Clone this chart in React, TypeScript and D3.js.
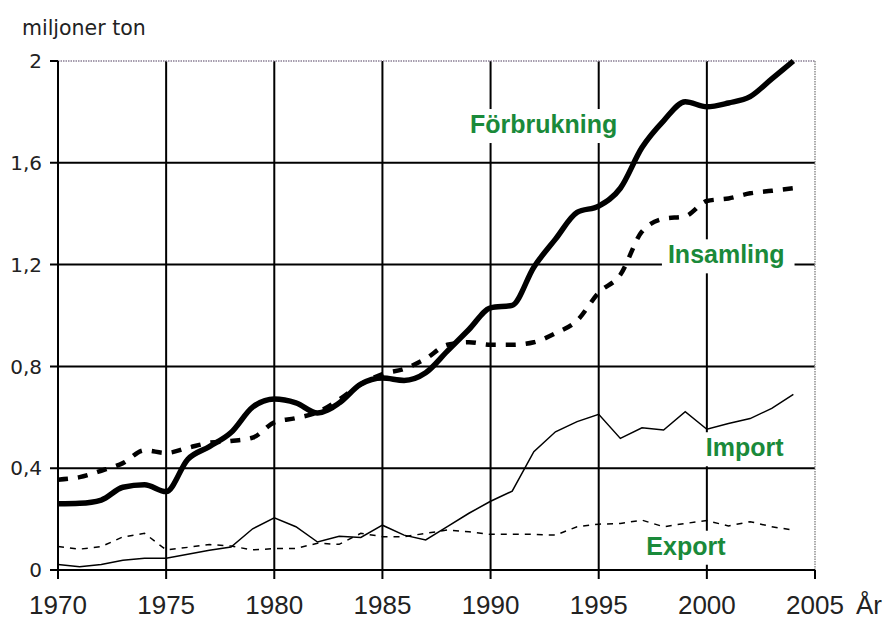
import React from 'react';
import * as d3 from 'd3';

const years = d3.range(1970, 2005);

const forbrukning = [
  0.26, 0.262, 0.275, 0.325, 0.335, 0.308, 0.435, 0.485, 0.54, 0.64,
  0.672, 0.657, 0.617, 0.656, 0.73, 0.754, 0.745, 0.775, 0.86, 0.945,
  1.03, 1.04, 1.19, 1.3, 1.405, 1.43, 1.5, 1.66, 1.765, 1.84,
  1.82, 1.835, 1.86, 1.93, 2.0,
];

const insamling = [
  0.355, 0.365, 0.39, 0.42, 0.47, 0.46, 0.48, 0.5, 0.507, 0.52,
  0.58, 0.597, 0.62, 0.67, 0.73, 0.77, 0.79, 0.83, 0.885, 0.895,
  0.885, 0.885, 0.895, 0.93, 0.98, 1.09, 1.16, 1.33, 1.38, 1.39,
  1.45, 1.46, 1.48, 1.49, 1.5,
];

const importSerie = [
  0.022, 0.013, 0.022, 0.038, 0.046, 0.046, 0.062, 0.078, 0.09, 0.162,
  0.205, 0.17, 0.11, 0.133, 0.128, 0.176, 0.137, 0.118, 0.17, 0.223,
  0.27, 0.31, 0.465, 0.543, 0.583, 0.612, 0.517, 0.559, 0.55, 0.622,
  0.553, 0.576, 0.595, 0.635, 0.69,
];

const exportSerie = [
  0.092, 0.082, 0.092, 0.13, 0.144, 0.079, 0.089, 0.1, 0.094, 0.079,
  0.084, 0.085, 0.105, 0.101, 0.144, 0.131, 0.131, 0.144, 0.157, 0.15,
  0.14, 0.14, 0.14, 0.137, 0.17, 0.18, 0.183, 0.196, 0.17, 0.183,
  0.194, 0.173, 0.19, 0.17, 0.157,
];

const xTicks = [1970, 1975, 1980, 1985, 1990, 1995, 2000, 2005];
const yTicks = [0, 0.4, 0.8, 1.2, 1.6, 2];

// etiketter: text, år, värde för textens baslinje
const labels = [
  { text: 'Förbrukning', year: 1989.05, value: 1.717 },
  { text: 'Insamling', year: 1998.2, value: 1.205 },
  { text: 'Import', year: 1999.95, value: 0.447 },
  { text: 'Export', year: 1997.2, value: 0.06 },
];

const green = '#1a8a3a';

export default function App() {
  const width = 891;
  const height = 621;
  const x = d3.scaleLinear().domain([1970, 2005]).range([58, 815]);
  const y = d3.scaleLinear().domain([0, 2]).range([570, 61]);

  const smooth = d3
    .line<number>()
    .x((_, i) => x(years[i]))
    .y(d => y(d))
    .curve(d3.curveMonotoneX);
  const straight = d3
    .line<number>()
    .x((_, i) => x(years[i]))
    .y(d => y(d));

  const fmt = (v: number) => (v === 0 || v === 2 ? String(v) : v.toFixed(1).replace('.', ','));

  return (
    <svg
      width={width}
      height={height}
      style={{ position: 'absolute', left: 0, top: 0, background: '#fff' }}
    >
      <text x={22} y={35} fontFamily="DejaVu Sans" fontSize={20.5} fill="#222">
        miljoner ton
      </text>

      {/* rutnät */}
      {xTicks.slice(1, -1).map(t => (
        <line key={'v' + t} x1={x(t)} x2={x(t)} y1={y(2)} y2={y(0) + 9} stroke="#000" strokeWidth={2} />
      ))}
      {yTicks.slice(1, -1).map(t => (
        <line key={'h' + t} x1={x(1970) - 8} x2={x(2005)} y1={y(t)} y2={y(t)} stroke="#000" strokeWidth={2} />
      ))}
      {/* ram uppe och höger */}
      <line x1={x(1970)} x2={x(2005)} y1={y(2)} y2={y(2)} stroke="#8a7f95" strokeWidth={1.5} strokeDasharray="1.5 1" />
      <line x1={x(2005)} x2={x(2005)} y1={y(2)} y2={y(0)} stroke="#8f8f8f" strokeWidth={1.5} strokeDasharray="1.5 1" />
      <line x1={x(1970) - 8} x2={x(1970)} y1={y(2)} y2={y(2)} stroke="#000" strokeWidth={2} />
      {/* axlar */}
      <line x1={x(1970)} x2={x(1970)} y1={y(2)} y2={y(0) + 9} stroke="#000" strokeWidth={2} />
      <line x1={x(1970) - 8} x2={x(2005)} y1={y(0)} y2={y(0)} stroke="#000" strokeWidth={2} />
      <line x1={x(2005)} x2={x(2005)} y1={y(0)} y2={y(0) + 9} stroke="#000" strokeWidth={2} />

      {yTicks.map(t => (
        <text
          key={'yl' + t}
          x={42}
          y={y(t)}
          dy="0.36em"
          textAnchor="end"
          fontFamily="DejaVu Sans"
          fontSize={20}
          fill="#222"
        >
          {fmt(t)}
        </text>
      ))}
      {xTicks.map(t => (
        <text
          key={'xl' + t}
          x={x(t)}
          y={614}
          textAnchor="middle"
          fontFamily="Liberation Sans, Arial"
          fontSize={26}
          fill="#222"
        >
          {t}
        </text>
      ))}
      <text x={856} y={614} fontFamily="Liberation Sans, Arial" fontSize={26} fill="#222">
        År
      </text>

      {/* serier */}
      <path d={straight(exportSerie) || ''} fill="none" stroke="#000" strokeWidth={1.5} strokeDasharray="6 6" />
      <path d={straight(importSerie) || ''} fill="none" stroke="#000" strokeWidth={1.5} />
      <path d={smooth(insamling) || ''} fill="none" stroke="#000" strokeWidth={4.5} strokeDasharray="10 10" />
      <path d={smooth(forbrukning) || ''} fill="none" stroke="#000" strokeWidth={5.5} strokeLinejoin="round" />

      {/* etiketter */}
      {labels.map(l => {
        const w = l.text.length * 13.4 + 12;
        const bx = x(l.year);
        const by = y(l.value);
        return (
          <g key={l.text}>
            <rect x={bx - 6} y={by - 24} width={w} height={34} fill="#fff" />
            <text
              x={bx}
              y={by}
              fontFamily="Liberation Sans, Arial"
              fontWeight="bold"
              fontSize={25}
              fill={green}
            >
              {l.text}
            </text>
          </g>
        );
      })}
    </svg>
  );
}
